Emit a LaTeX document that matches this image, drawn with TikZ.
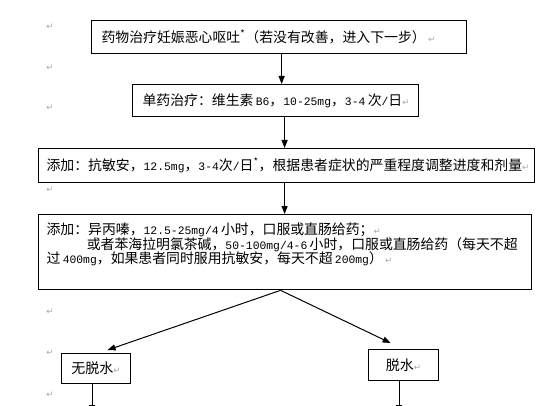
\documentclass[tikz,border=0pt]{standalone}
\usepackage{fontspec}
\setmainfont{Noto Sans CJK SC}
\newfontfamily\symfont{DejaVu Sans}
\newfontfamily\latfont{Liberation Mono}[Scale=0.82]
\usepackage{xcolor}
\usetikzlibrary{arrows.meta,positioning}
\newcommand{\pmark}{{\symfont\color{gray!70}\fontsize{6.5}{6.5}\selectfont ↵}}
\newcommand{\lat}[1]{{\latfont #1}}
\hyphenpenalty=10000
\exhyphenpenalty=10000
\lineskiplimit=-20pt

\begin{document}
\begin{tikzpicture}[x=0.75pt,y=-0.75pt,
    box/.style={draw, rectangle, line width=0.9pt, anchor=north west, inner xsep=7.5pt, inner ysep=0pt, align=left, font=\fontsize{10.4}{10.8}\selectfont},
    sbox/.style={draw, rectangle, line width=0.9pt, anchor=north west, inner sep=0pt, font=\fontsize{10.5}{10.8}\selectfont},
    arr/.style={-{Triangle[length=6pt,width=4.5pt]}, line width=0.75pt},
    ret/.style={inner sep=0pt}]
        \useasboundingbox (0,0) rectangle (560,406);
        \clip (0,0) rectangle (560,406);
        \node[box, text width=266.25pt, minimum height=24.75pt] (b1) at (91,20) {药物治疗妊娠恶心呕吐\textsuperscript{*}（若没有改善，进入下一步）\,\pmark};
        \node[box, text width=199.5pt, minimum height=24pt] (b2) at (132,84) {单药治疗：维生素\,\lat{B6}，\lat{10-25mg}，\lat{3-4}\,次\lat{/}日\pmark};
        \node[box, text width=360pt, inner xsep=6pt, minimum height=25.5pt] (b3) at (38,148) {添加：抗敏安，\lat{12.5mg}，\lat{3-4}次\lat{/}日\textsuperscript{*}，根据患者症状的严重程度调整进度和剂量\pmark};
        \node[box, text width=357.75pt, inner xsep=6pt, inner ysep=6.5pt] (b4) at (38,214) {添加：异丙嗪，\lat{12.5-25mg/4}\,小时，口服或直肠给药；\pmark\\
            \hspace*{2.9em}或者苯海拉明氯茶碱，\lat{50-100mg/4-6}\,小时，口服或直肠给药（每天不超\\
            过\,\lat{400mg}，如果患者同时服用抗敏安，每天不超\,\lat{200mg}）\,\pmark\rule[-13pt]{0pt}{13pt}};
        \node[sbox, minimum width=51.75pt, minimum height=22.5pt] (b5) at (61,353) {无脱水\pmark};
        \node[sbox, minimum width=52.5pt, minimum height=23.25pt] (b6) at (368,349) {脱水\pmark};
        % paragraph marks on the left
        \foreach \y [count=\i] in {27,68,108,190,312,353,395}
            \node[ret] (p\i) at (50,\y) {\pmark};
        \coordinate (e5) at (92,413);
        \coordinate (e6) at (399,413);
        \draw[arr] ([xshift=1.9pt]b1.south) -- ([xshift=1.9pt]b1.south |- b2.north);
        \draw[arr] ([xshift=6.75pt]b2.south) -- ([xshift=6.75pt]b2.south |- b3.north);
        \draw[arr] ([xshift=-1.5pt]b3.south) -- ([xshift=-1.5pt]b3.south |- b4.north);
        \draw[arr] ([xshift=-3.4pt]b4.south) -- ([xshift=8.6pt,yshift=2.25pt]b5.north);
        \draw[arr] ([xshift=-3.4pt]b4.south) -- ([xshift=-9.75pt,yshift=4.5pt]b6.north);
        \draw[arr] (b5.south -| e5) -- (e5);
        \draw[arr] (b6.south -| e6) -- (e6);
    \end{tikzpicture}
\end{document}
